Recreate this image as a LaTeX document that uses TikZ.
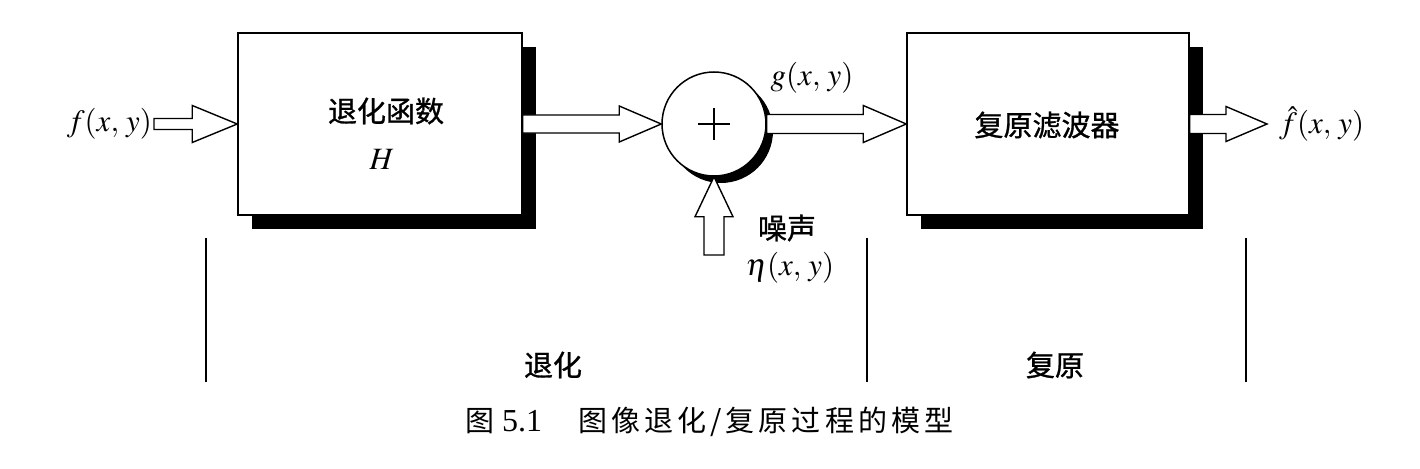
\documentclass[tikz,border=0pt]{standalone}
\usepackage{mathptmx}
\usepackage{fontspec}
\setmainfont{Liberation Serif}
\newfontfamily\cjk[FakeBold=1]{Noto Sans CJK SC}
\newfontfamily\cjkcap[LetterSpace=14]{Noto Sans CJK SC}
\usetikzlibrary{calc, shadows}

\begin{document}
\begin{tikzpicture}
    [
        x=1pt, y=-1pt,
        block_node/.style={rectangle, draw=black, fill=white, line width=1.5pt, minimum width=284pt, minimum height=182pt, drop shadow={shadow xshift=14pt, shadow yshift=-14pt, fill=black, opacity=1}},
        sum_node/.style={circle, draw=black, fill=white, line width=1.5pt, minimum size=104pt, inner sep=0pt, drop shadow={shadow xshift=7pt, shadow yshift=-7pt, fill=black, opacity=1}},
        cjk_text/.style={inner sep=0pt, font=\cjk\fontsize{29}{34}\selectfont},
        math_text/.style={inner sep=2pt, font=\fontsize{31}{36}\selectfont},
        block_arrow/.style n args={3}{draw=black, fill=white, line width=1.4pt, line join=miter,
            to path={let \p1=($(\tikztostart)!#1!90:(\tikztotarget)$), \p2=($(\tikztostart)!#1!-90:(\tikztotarget)$),
                \p3=($(\tikztostart)!#2!90:(\tikztotarget)$), \p4=($(\tikztostart)!#2!-90:(\tikztotarget)$),
                \p5=($(\tikztotarget)!#3!(\tikztostart)$), \p6=(\tikztostart) in
                (\p1) -- ($(\p5)+(\p1)-(\p6)$) -- ($(\p5)+(\p3)-(\p6)$) -- (\tikztotarget)
                -- ($(\p5)+(\p4)-(\p6)$) -- ($(\p5)+(\p2)-(\p6)$) -- (\p2) -- cycle}},
    ]
        \useasboundingbox (0,0) rectangle (1420,468);
        \node[block_node] (deg) at (380,124) {};
        \node[block_node, minimum width=282pt] (rest) at (1048,124) {};
        \node[sum_node] (sum) at (714,124) {};
        \draw[line width=1.4pt] (sum.center) ++(-16,0) -- ++(32,0) (sum.center) ++(0,-16) -- ++(0,32);
        \node[math_text, anchor=east] (fin) at (154,124) {$f(x,\,y)$};
        \node[cjk_text] (deg_title) at (386,111) {退化函数};
        \node[math_text] (deg_H) at (382,159) {$H$};
        \node[cjk_text] (rest_title) at (1047,125) {复原滤波器};
        \node[math_text, anchor=west, inner xsep=12pt] (fout) at (1267,124) {$\hat{f}(x,\,y)$};
        \node[math_text] (g) at (812,78) {$g(x,\,y)$};
        \node[cjk_text] (noise) at (787,228) {噪声};
        \node[math_text] (eta) at (790,268) {$\eta(x,\,y)$};
        \coordinate (noise_in) at (714,255);
        \draw[block_arrow={5.5pt}{18.5pt}{45pt}] (fin.east) to (deg.west);
        \draw[block_arrow={9pt}{18pt}{42pt}] (deg.east) to (sum.west);
        \draw[block_arrow={9.5pt}{18.5pt}{43pt}] (sum.east) to (rest.west);
        \draw[block_arrow={9.5pt}{17.5pt}{41pt}] (rest.east) to (fout.west);
        \draw[block_arrow={10pt}{19pt}{40pt}] (noise_in) to (sum.south);
        \foreach \x in {206, 867, 1246}
            \draw[line width=1.2pt] (\x,238) -- (\x,382);
        \node[cjk_text] (deg_part) at (553,365) {退化};
        \node[cjk_text] (rest_part) at (1055,365) {复原};
        \node[anchor=west, inner sep=0pt, font=\fontsize{32}{36}\selectfont] (caption) at (465,422) {{\cjkcap\fontsize{29}{34}\selectfont 图} 5.1\hspace{36pt}{\cjkcap\fontsize{29}{34}\selectfont 图像退化/复原过程的模型}};
\end{tikzpicture}
\end{document}
